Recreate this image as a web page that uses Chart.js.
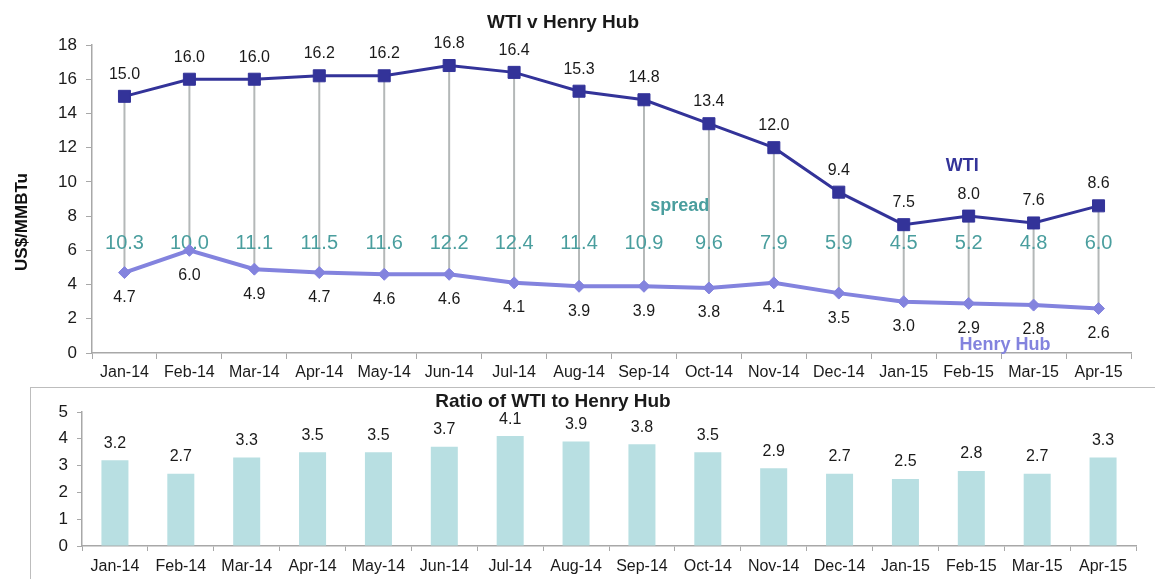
<!DOCTYPE html>
<html>
<head>
<meta charset="utf-8">
<script src="https://cdn.jsdelivr.net/npm/chart.js@4/dist/chart.umd.min.js"></script>
<style>
  html, body { margin: 0; padding: 0; background: #fff; }
  body { width: 1155px; height: 579px; position: relative; overflow: hidden; }
  #top { position: absolute; left: 0; top: 0; width: 1155px; height: 385px; }
  #box { position: absolute; left: 30px; top: 387px; width: 1200px; height: 230px;
         border: 1px solid #bdbdbd; box-sizing: border-box; }
  #bottom { position: absolute; left: 0; top: 0; width: 1124px; height: 191px; }
</style>
</head>
<body>
<div id="top"><canvas id="priceChart"></canvas></div>
<div id="box"><div id="bottom"><canvas id="ratioChart"></canvas></div></div>
<script>
const months = ["Jan-14", "Feb-14", "Mar-14", "Apr-14", "May-14", "Jun-14", "Jul-14", "Aug-14",
  "Sep-14", "Oct-14", "Nov-14", "Dec-14", "Jan-15", "Feb-15", "Mar-15", "Apr-15"];
const wti = [15.0, 16.0, 16.0, 16.2, 16.2, 16.8, 16.4, 15.3, 14.8, 13.4, 12.0, 9.4, 7.5, 8.0, 7.6, 8.6];
const henryHub = [4.7, 6.0, 4.9, 4.7, 4.6, 4.6, 4.1, 3.9, 3.9, 3.8, 4.1, 3.5, 3.0, 2.9, 2.8, 2.6];
const spread = [10.3, 10.0, 11.1, 11.5, 11.6, 12.2, 12.4, 11.4, 10.9, 9.6, 7.9, 5.9, 4.5, 5.2, 4.8, 6.0];
const ratio = [3.2, 2.7, 3.3, 3.5, 3.5, 3.7, 4.1, 3.9, 3.8, 3.5, 2.9, 2.7, 2.5, 2.8, 2.7, 3.3];

const FONT = "Arial, 'Liberation Sans', sans-serif";
const axisGrey = "#a8a8a8";
const wtiColor = "#333399";
const hhColor = "#8383de";
const teal = "#4a9e9e";

// title drawn by hand so it can sit off-centre like the original
const titlePlugin = {
  id: "customTitle",
  afterDraw(chart, args, opts) {
    const ctx = chart.ctx;
    ctx.save();
    ctx.font = "bold 19px " + FONT;
    ctx.fillStyle = "#1a1a1a";
    ctx.textAlign = "center";
    ctx.textBaseline = "middle";
    ctx.fillText(opts.text, opts.x, opts.y);
    ctx.restore();
  }
};

// grey high-low lines between WTI and Henry Hub
const dropLines = {
  id: "dropLines",
  beforeDatasetsDraw(chart) {
    const a = chart.getDatasetMeta(0).data;
    const b = chart.getDatasetMeta(1).data;
    const ctx = chart.ctx;
    ctx.save();
    ctx.strokeStyle = "#b4b8b8";
    ctx.lineWidth = 2;
    a.forEach((p, i) => {
      ctx.beginPath();
      ctx.moveTo(p.x, p.y);
      ctx.lineTo(b[i].x, b[i].y);
      ctx.stroke();
    });
    // spread values
    const x = chart.scales.x, y = chart.scales.y;
    ctx.font = "20px " + FONT;
    ctx.fillStyle = teal;
    ctx.textAlign = "center";
    ctx.textBaseline = "middle";
    spread.forEach((v, i) => {
      ctx.fillText(v.toFixed(1), x.getPixelForValue(i), y.getPixelForValue(6.4));
    });
    ctx.restore();
  }
};

const lineLabels = {
  id: "lineLabels",
  afterDatasetsDraw(chart) {
    const ctx = chart.ctx;
    const x = chart.scales.x, y = chart.scales.y;
    ctx.save();
    ctx.textAlign = "center";
    ctx.textBaseline = "middle";
    ctx.font = "16px " + FONT;
    ctx.fillStyle = "#1a1a1a";
    chart.getDatasetMeta(0).data.forEach((p, i) => {
      ctx.fillText(wti[i].toFixed(1), p.x, p.y - 22);
    });
    chart.getDatasetMeta(1).data.forEach((p, i) => {
      ctx.fillText(henryHub[i].toFixed(1), p.x, p.y + 25);
    });
    // series names
    ctx.font = "bold 18px " + FONT;
    ctx.fillStyle = wtiColor;
    ctx.fillText("WTI", x.getPixelForValue(12.9), y.getPixelForValue(10.9));
    ctx.fillStyle = teal;
    ctx.fillText("spread", x.getPixelForValue(8.55), y.getPixelForValue(8.6));
    ctx.fillStyle = hhColor;
    ctx.fillText("Henry Hub", x.getPixelForValue(13.56), y.getPixelForValue(0.47));
    ctx.restore();
  }
};

const barLabels = {
  id: "barLabels",
  afterDatasetsDraw(chart) {
    const ctx = chart.ctx;
    ctx.save();
    ctx.textAlign = "center";
    ctx.textBaseline = "middle";
    ctx.font = "16px " + FONT;
    ctx.fillStyle = "#1a1a1a";
    chart.getDatasetMeta(0).data.forEach((b, i) => {
      ctx.fillText(ratio[i].toFixed(1), b.x, b.y - 17);
    });
    ctx.restore();
  }
};

// y axis title
const yTitle = {
  id: "yTitle",
  afterDraw(chart) {
    const ctx = chart.ctx;
    ctx.save();
    ctx.translate(22, 222);
    ctx.rotate(-Math.PI / 2);
    ctx.font = "bold 17px " + FONT;
    ctx.fillStyle = "#111";
    ctx.textAlign = "center";
    ctx.textBaseline = "middle";
    ctx.fillText("US$/MMBTu", 0, 0);
    ctx.restore();
  }
};

new Chart(document.getElementById("priceChart"), {
  type: "line",
  data: {
    labels: months,
    datasets: [
      {
        label: "WTI",
        data: wti,
        borderColor: wtiColor,
        backgroundColor: wtiColor,
        borderWidth: 3,
        pointStyle: "rect",
        pointRadius: 8.5,
        pointBorderWidth: 1,
        tension: 0,
      },
      {
        label: "Henry Hub",
        data: henryHub,
        borderColor: hhColor,
        backgroundColor: hhColor,
        borderWidth: 4,
        pointStyle: "rectRot",
        pointRadius: 6,
        pointBorderWidth: 1,
        tension: 0,
      },
    ],
  },
  options: {
    responsive: true,
    maintainAspectRatio: false,
    animation: false,
    layout: { padding: { top: 45, right: 24, left: 0, bottom: 0 } },
    plugins: {
      legend: { display: false },
      tooltip: { enabled: false },
      customTitle: { text: "WTI v Henry Hub", x: 563, y: 23 },
    },
    scales: {
      x: {
        offset: true,
        grid: { offset: true, drawOnChartArea: false, tickLength: 6, color: axisGrey },
        border: { color: axisGrey, width: 1.5 },
        ticks: { color: "#1a1a1a", font: { size: 16, family: FONT }, padding: 4, maxRotation: 0, autoSkip: false },
        afterFit: (s) => { s.height = 32; },
      },
      y: {
        min: 0,
        max: 18,
        grid: { drawOnChartArea: false, tickLength: 6, color: axisGrey },
        border: { color: axisGrey, width: 1.5 },
        ticks: { stepSize: 2, color: "#1a1a1a", font: { size: 17, family: FONT }, padding: 9 },
        afterFit: (s) => { s.width = 92; },
      },
    },
  },
  plugins: [titlePlugin, dropLines, lineLabels, yTitle],
});

new Chart(document.getElementById("ratioChart"), {
  type: "bar",
  data: {
    labels: months,
    datasets: [
      {
        label: "Ratio",
        data: ratio,
        backgroundColor: "#b8dfe2",
        categoryPercentage: 1,
        barPercentage: 0.41,
      },
    ],
  },
  options: {
    responsive: true,
    maintainAspectRatio: false,
    animation: false,
    layout: { padding: { top: 24, right: 19, left: 0, bottom: 0 } },
    plugins: {
      legend: { display: false },
      tooltip: { enabled: false },
      customTitle: { text: "Ratio of WTI to Henry Hub", x: 522, y: 14 },
    },
    scales: {
      x: {
        grid: { offset: true, drawOnChartArea: false, tickLength: 5, color: axisGrey },
        border: { color: axisGrey, width: 1.5 },
        ticks: { color: "#1a1a1a", font: { size: 16, family: FONT }, padding: 6, maxRotation: 0, autoSkip: false },
        afterFit: (s) => { s.height = 33; },
      },
      y: {
        min: 0,
        max: 5,
        grid: { drawOnChartArea: false, tickLength: 5, color: axisGrey },
        border: { color: axisGrey, width: 1.5 },
        ticks: { stepSize: 1, color: "#1a1a1a", font: { size: 17, family: FONT }, padding: 9 },
        afterFit: (s) => { s.width = 51; },
      },
    },
  },
  plugins: [titlePlugin, barLabels],
});
</script>
</body>
</html>
